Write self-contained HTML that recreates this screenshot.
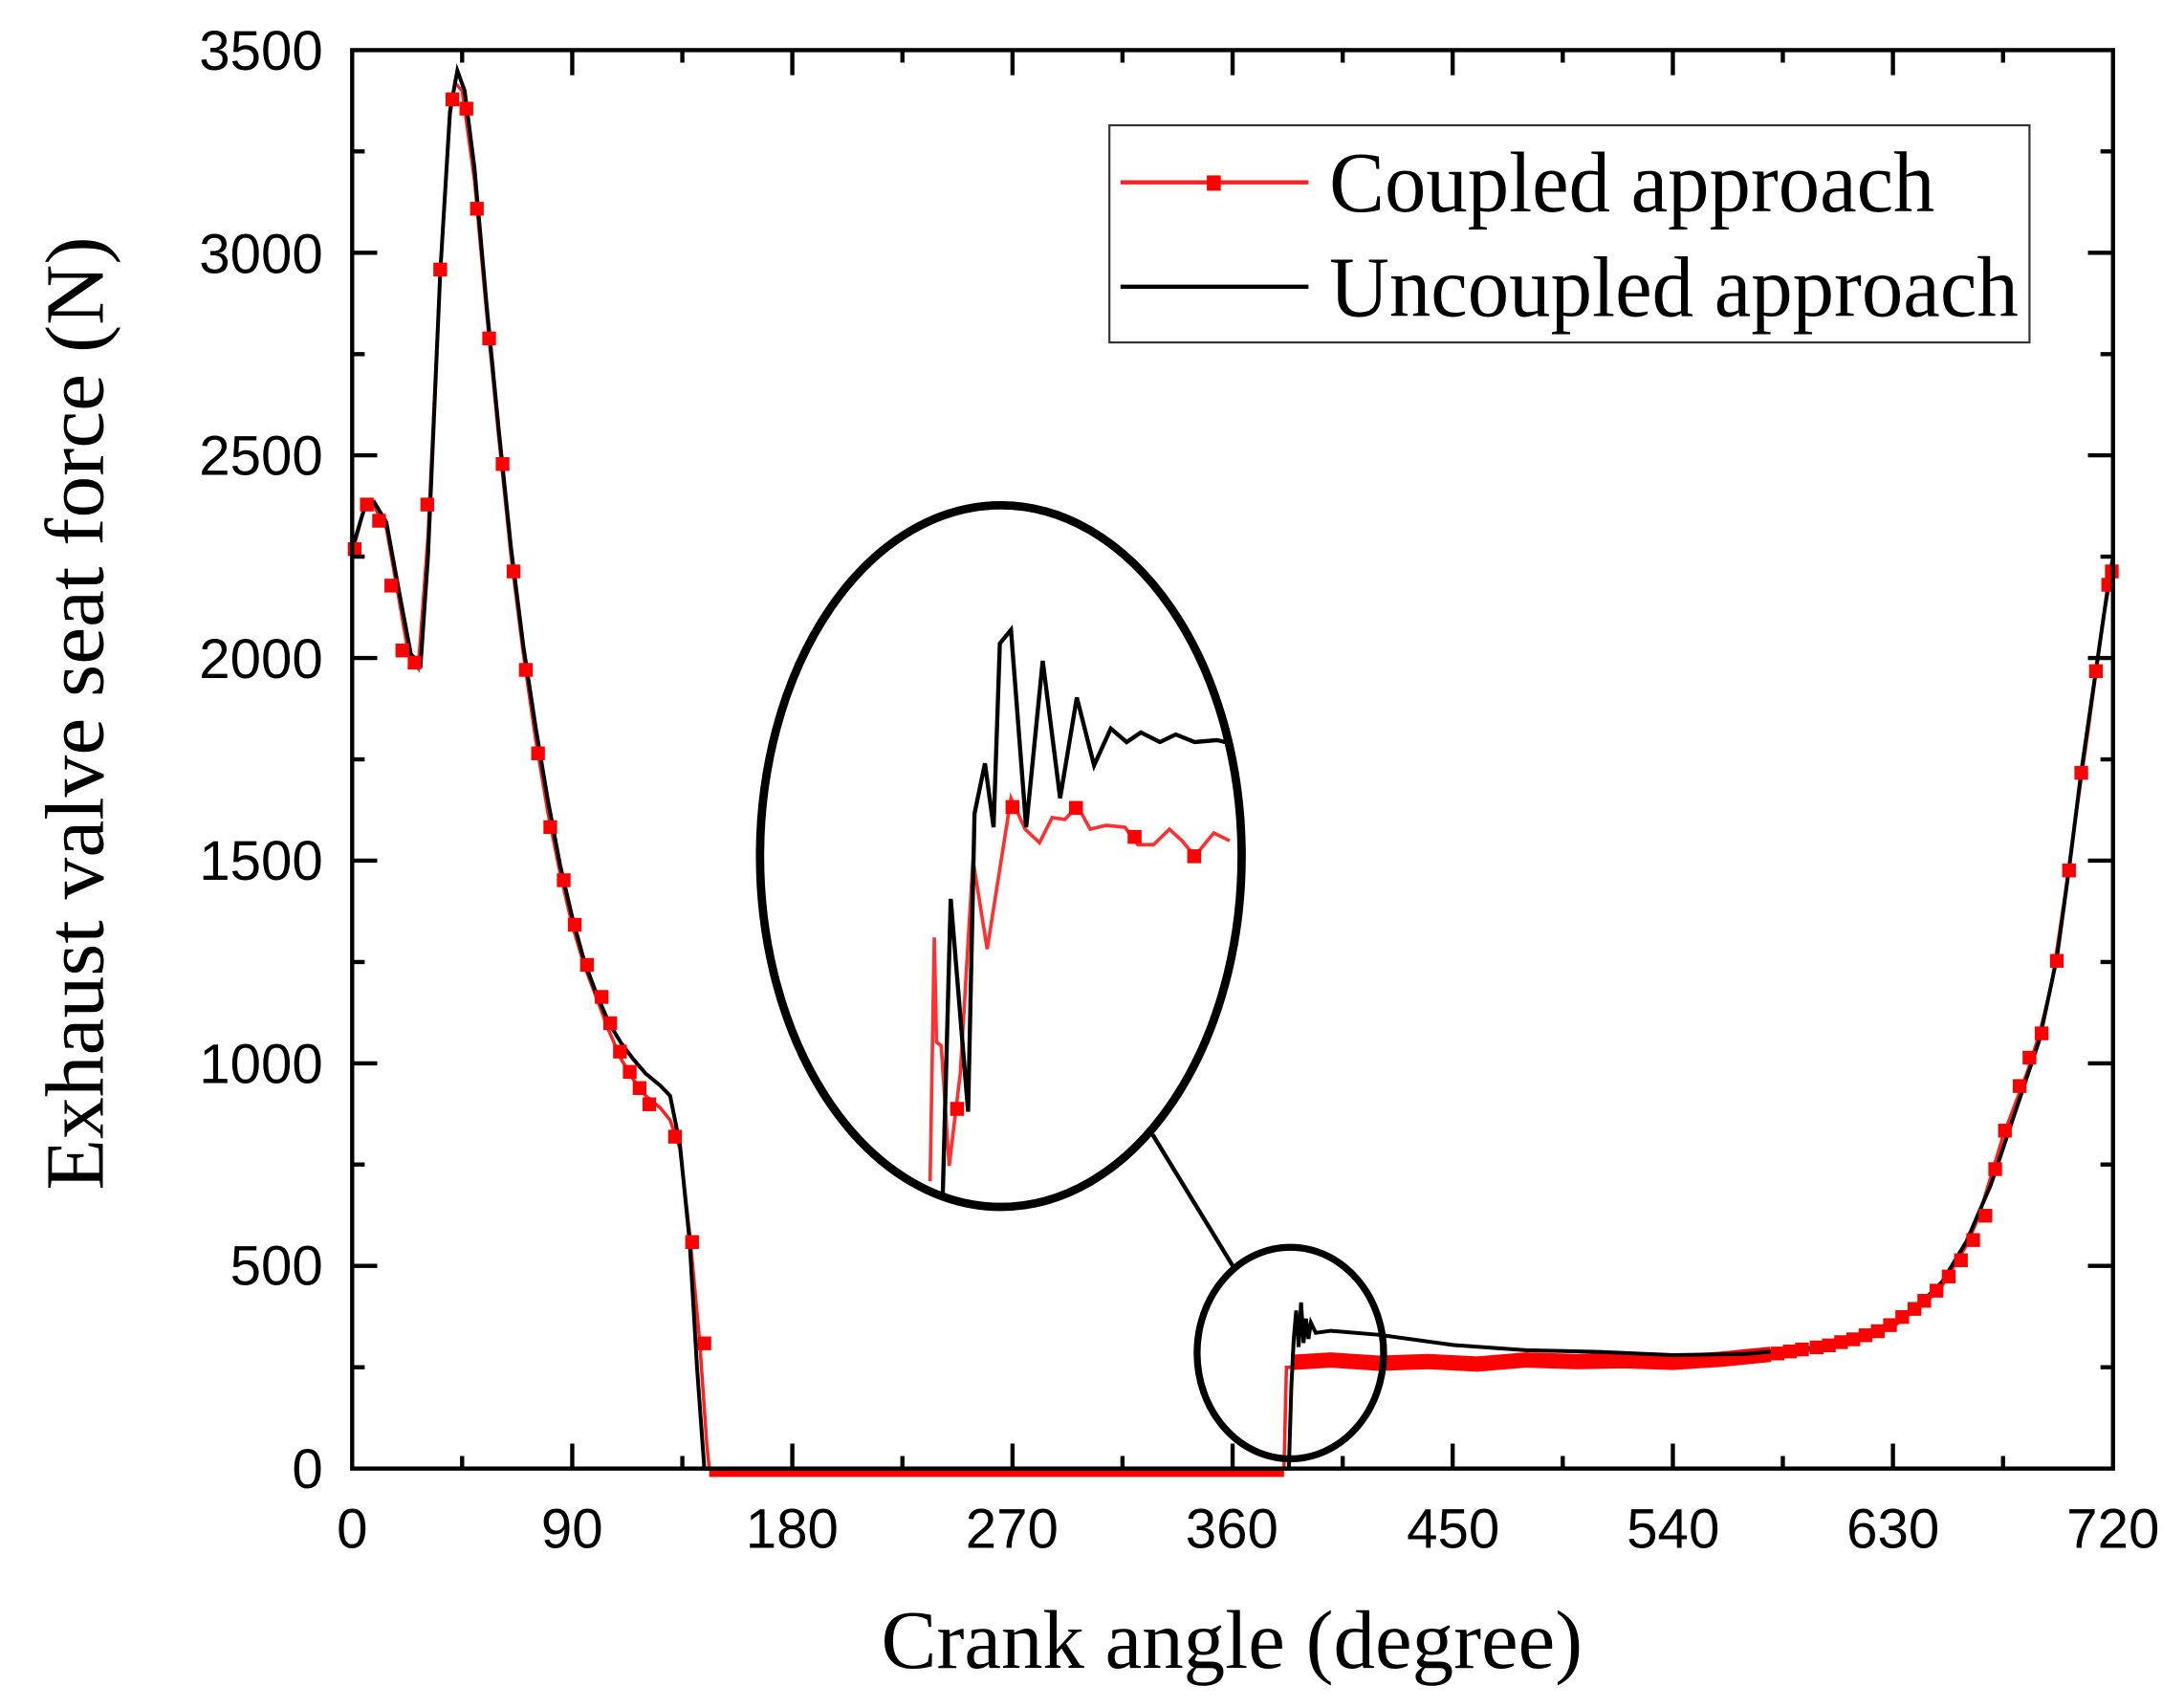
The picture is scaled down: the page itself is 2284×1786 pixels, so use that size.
<!DOCTYPE html>
<html><head><meta charset="utf-8"><style>html,body{margin:0;padding:0;background:#fff}svg{display:block}</style></head>
<body>
<svg width="2284" height="1786" viewBox="0 0 1569 1227" preserveAspectRatio="none" xmlns="http://www.w3.org/2000/svg">
<rect width="1569" height="1227" fill="#fff"/>
<g transform="translate(253,1055) scale(1.757,-0.2911)">
<polyline vector-effect="non-scaling-stroke" fill="none" stroke="#ff0000" stroke-width="9" points="146,-10 381,-10"/>
<polyline vector-effect="non-scaling-stroke" fill="none" stroke="#ff2020" stroke-width="3.5" points="0,2260 5,2370 9,2375 14,2320 19,2150 23,2010 27,1975 31,2300 36,2950 40,3340 42,3420 45,3400 50,3180 55,2850 60,2540 65,2250 70,2010 75,1800 80,1620 85,1470 90,1340 95,1240 100,1160 105,1080 110,1010 115,960 120,920 126,890 130,860 134,790 138,580 142,320 145,60 146,0 381,0 382,250 386,250 390,270 400,262 420,255 440,262 460,258 480,268 500,262 520,266 540,262 560,270 580,282 600,295 610,310 620,325 630,350 640,395 645,420 650,450 655,500 660,550 665,620 670,720 675,820 680,900 685,980 690,1075 695,1200 700,1400 705,1620 710,1830 716,2100 720,2230"/>
<polyline vector-effect="non-scaling-stroke" fill="none" stroke="#ff0000" stroke-width="16" points="384,262 400,268 420,260 440,264 460,258 480,268 500,264 520,266 540,262 560,270 580,282"/>
<polyline vector-effect="non-scaling-stroke" fill="none" stroke="#000" stroke-width="4" points="0,2270 5,2370 9,2385 14,2335 19,2170 24,2010 28,1985 31,2250 36,2950 40,3350 43,3450 46,3400 50,3210 55,2870 60,2560 65,2270 70,2030 75,1830 80,1650 85,1490 90,1360 95,1250 100,1170 105,1100 110,1050 115,1010 120,975 126,945 130,920 134,800 138,560 141,250 144,0 383,0 384,200 385,320 386,390 387,300 388,410 389,310 390,370 391,320 392,360 394,335 400,340 420,330 450,305 480,292 510,288 540,280 570,283 600,300 620,330 630,355 640,400 650,460 660,560 670,700 680,880 690,1060 697,1260 702,1480 707,1720 713,1970 718,2180 720,2250"/>
<g fill="#ff0000">
<rect x="-1.8" y="2252" width="5.6" height="34"/><rect x="3.2" y="2362" width="5.6" height="34"/><rect x="8.2" y="2322" width="5.6" height="34"/><rect x="13.2" y="2162" width="5.6" height="34"/><rect x="17.7" y="2002" width="5.6" height="34"/><rect x="22.7" y="1972" width="5.6" height="34"/><rect x="27.9" y="2362" width="5.6" height="34"/><rect x="33.2" y="2942" width="5.6" height="34"/><rect x="38.2" y="3362" width="5.6" height="34"/><rect x="43.9" y="3339" width="5.6" height="34"/><rect x="48.2" y="3092" width="5.6" height="34"/><rect x="53.2" y="2772" width="5.6" height="34"/><rect x="58.7" y="2462" width="5.6" height="34"/><rect x="63.2" y="2197" width="5.6" height="34"/><rect x="68.2" y="1954" width="5.6" height="34"/><rect x="73.2" y="1748" width="5.6" height="34"/><rect x="78.2" y="1566" width="5.6" height="34"/><rect x="83.7" y="1435" width="5.6" height="34"/><rect x="88.2" y="1325" width="5.6" height="34"/><rect x="93.2" y="1226" width="5.6" height="34"/><rect x="99.2" y="1147" width="5.6" height="34"/><rect x="102.7" y="1082" width="5.6" height="34"/><rect x="106.7" y="1012" width="5.6" height="34"/><rect x="110.7" y="962" width="5.6" height="34"/><rect x="114.7" y="922" width="5.6" height="34"/><rect x="118.7" y="882" width="5.6" height="34"/><rect x="129.2" y="802" width="5.6" height="34"/><rect x="136.2" y="542" width="5.6" height="34"/><rect x="141.2" y="292" width="5.6" height="34"/>
<rect x="580" y="267" width="5.6" height="34"/><rect x="585" y="272" width="5.6" height="34"/><rect x="590" y="277" width="5.6" height="34"/><rect x="596" y="282" width="5.6" height="34"/><rect x="601" y="287" width="5.6" height="34"/><rect x="606" y="295" width="5.6" height="34"/><rect x="611" y="302" width="5.6" height="34"/><rect x="616" y="312" width="5.6" height="34"/><rect x="621" y="322" width="5.6" height="34"/><rect x="626" y="337" width="5.6" height="34"/><rect x="631" y="357" width="5.6" height="34"/><rect x="636" y="377" width="5.6" height="34"/><rect x="640" y="397" width="5.6" height="34"/><rect x="645" y="422" width="5.6" height="34"/><rect x="650" y="457" width="5.6" height="34"/><rect x="655" y="497" width="5.6" height="34"/><rect x="660" y="547" width="5.6" height="34"/><rect x="665" y="607" width="5.6" height="34"/><rect x="669" y="722" width="5.6" height="34"/><rect x="673" y="817" width="5.6" height="34"/><rect x="679" y="927" width="5.6" height="34"/><rect x="683" y="997" width="5.6" height="34"/><rect x="688" y="1057" width="5.6" height="34"/><rect x="694.2" y="1236" width="5.6" height="34"/><rect x="699.2" y="1459" width="5.6" height="34"/><rect x="704.2" y="1700" width="5.6" height="34"/><rect x="710.2" y="1951" width="5.6" height="34"/><rect x="715.2" y="2164" width="5.6" height="34"/><rect x="716.7" y="2197" width="5.6" height="34"/>
</g>
</g>
<rect x="253" y="36" width="1265" height="1019" fill="none" stroke="#000" stroke-width="3"/>
<g stroke="#000" stroke-width="3">
<path d="M411.1,1055v-18M569.2,1055v-18M727.4,1055v-18M885.5,1055v-18M1043.6,1055v-18M1201.8,1055v-18M1359.9,1055v-18
M332,1055v-9M490.2,1055v-9M648.3,1055v-9M806.4,1055v-9M964.6,1055v-9M1122.7,1055v-9M1280.8,1055v-9M1439,1055v-9
M411.1,36v18M569.2,36v18M727.4,36v18M885.5,36v18M1043.6,36v18M1201.8,36v18M1359.9,36v18
M332,36v9M490.2,36v9M648.3,36v9M806.4,36v9M964.6,36v9M1122.7,36v9M1280.8,36v9M1439,36v9"/>
<path d="M253,909.4h18M253,763.9h18M253,618.3h18M253,472.7h18M253,327.1h18M253,181.6h18
M253,982.2h9M253,836.6h9M253,691.1h9M253,545.5h9M253,399.9h9M253,254.4h9M253,108.8h9
M1518,909.4h-18M1518,763.9h-18M1518,618.3h-18M1518,472.7h-18M1518,327.1h-18M1518,181.6h-18
M1518,982.2h-9M1518,836.6h-9M1518,691.1h-9M1518,545.5h-9M1518,399.9h-9M1518,254.4h-9M1518,108.8h-9"/>
</g>
<g font-family="Liberation Sans, Arial, sans-serif" font-size="40" fill="#000" text-anchor="end">
<text x="232" y="1069">0</text><text x="232" y="923">500</text><text x="232" y="778">1000</text><text x="232" y="632">1500</text><text x="232" y="487">2000</text><text x="232" y="341">2500</text><text x="232" y="196">3000</text><text x="232" y="50">3500</text>
</g>
<g font-family="Liberation Sans, Arial, sans-serif" font-size="40" fill="#000" text-anchor="middle">
<text x="253" y="1112">0</text><text x="411" y="1112">90</text><text x="569" y="1112">180</text><text x="727" y="1112">270</text><text x="885" y="1112">360</text><text x="1044" y="1112">450</text><text x="1202" y="1112">540</text><text x="1360" y="1112">630</text><text x="1518" y="1112">720</text>
</g>
<text x="633" y="1198" font-family="Liberation Serif, Times New Roman, serif" font-size="60" textLength="504" lengthAdjust="spacingAndGlyphs">Crank angle (degree)</text>
<text transform="translate(74,855) rotate(-90)" font-family="Liberation Serif, Times New Roman, serif" font-size="60" textLength="685" lengthAdjust="spacingAndGlyphs">Exhaust valve seat force (N)</text>
<rect x="797" y="90" width="661" height="156" fill="#fff" stroke="#333" stroke-width="1.5"/>
<line x1="805" y1="131" x2="940" y2="131" stroke="#ff2020" stroke-width="3"/>
<rect x="867" y="126" width="10" height="11" fill="#ff0000"/>
<line x1="805" y1="206" x2="940" y2="206" stroke="#000" stroke-width="3"/>
<text x="955" y="152" font-family="Liberation Serif, Times New Roman, serif" font-size="62" textLength="435" lengthAdjust="spacingAndGlyphs">Coupled approach</text>
<text x="955" y="227" font-family="Liberation Serif, Times New Roman, serif" font-size="62" textLength="495" lengthAdjust="spacingAndGlyphs">Uncoupled approach</text>
<ellipse cx="927" cy="972" rx="67" ry="76" fill="none" stroke="#000" stroke-width="5"/>
<line x1="828" y1="815" x2="886" y2="910" stroke="#000" stroke-width="3"/>
<ellipse cx="719" cy="615" rx="173" ry="252" fill="none" stroke="#000" stroke-width="6"/>
<polyline fill="none" stroke="#ff3030" stroke-width="2.5" points="668.2,848.6 671.2,673.5 672.8,748.6 676.2,751.3 681.9,837.5 689.9,770.8 699,617.9 709.2,681.8 726.3,573.4 736.5,595.7 746.8,605.4 755.9,587.3 765,588.7 774.1,579 783.2,595.7 794.6,592.9 808.2,594.3 817.4,606.8 828.7,606.8 840.1,595.7 849.2,604 858.3,615.1 872,598.4 883.4,604"/>
<polyline fill="none" stroke="#000" stroke-width="3" points="677.3,858 683,645.7 695.5,798.6 700.1,584.5 707.6,548.4 713.8,594.3 718.3,462.2 726.3,452.5 737.2,594.3 749.1,474.7 761.6,573.4 773.6,501.1 786,549.8 798,523.4 809.4,533.1 819.6,526.2 833.3,533.1 844.7,527.6 858.3,533.1 874.3,531.7 884,534"/>
<g fill="#ff0000">
<rect x="682.6" y="791.6" width="10" height="10"/><rect x="722.4" y="574.8" width="10" height="10"/><rect x="768" y="575.4" width="10" height="10"/><rect x="810.1" y="596.2" width="10" height="10"/><rect x="852.9" y="610.1" width="10" height="10"/>
</g>
</svg>
</body></html>
